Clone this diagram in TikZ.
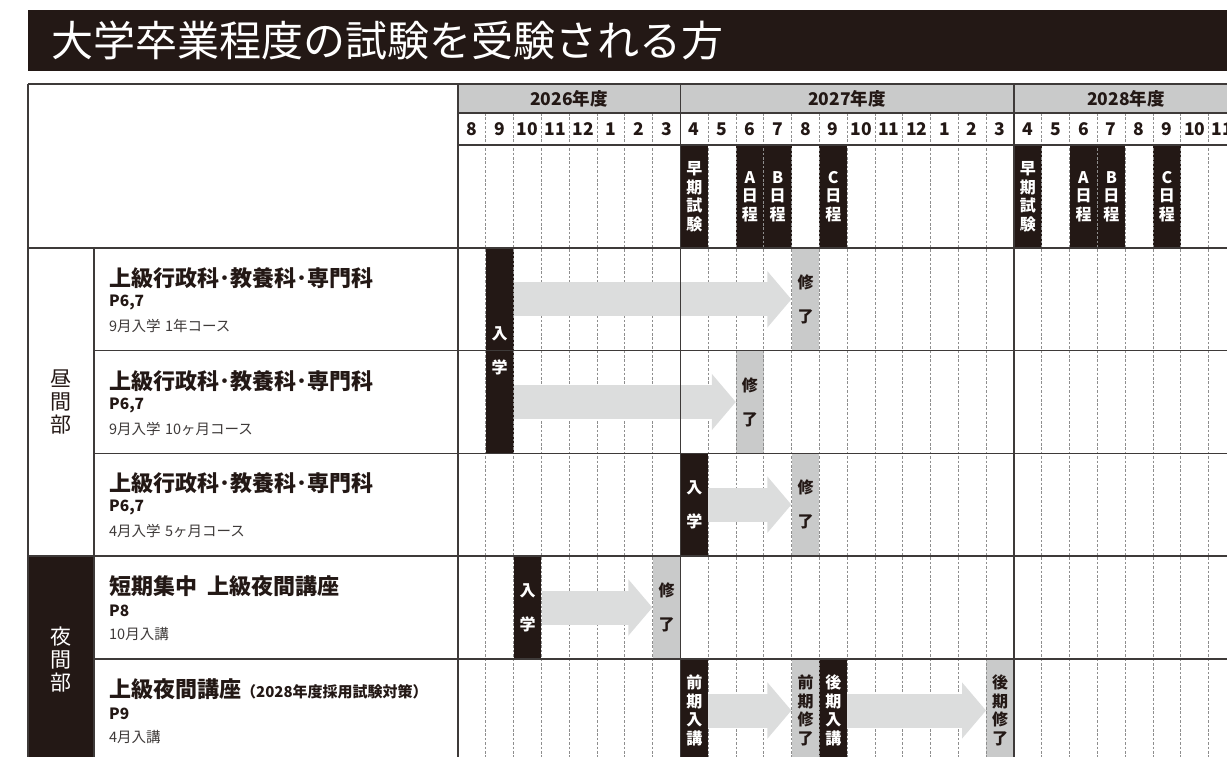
\documentclass[tikz,border=0pt]{standalone}
\usepackage{fontspec}
\setmainfont{Noto Sans CJK JP}
\usetikzlibrary{arrows.meta}
\definecolor{ink}{HTML}{231815}
\definecolor{boxgray}{HTML}{C9CACA}
\definecolor{flowgray}{HTML}{DCDDDD}
\definecolor{rulegray}{HTML}{3E3A39}
\definecolor{dashgray}{HTML}{8E8E8E}
\tikzset{
	rule/.style={draw=rulegray, line width=1.3pt},
	monthline/.style={draw=dashgray, line width=0.8pt, dash pattern=on 2.6pt off 1.8pt},
	cell/.style={inner sep=0pt, minimum width=27.8pt, align=center,
			font=\bfseries\fontsize{16}{18.5}\selectfont},
	pair/.style={font=\bfseries\fontsize{16}{34}\selectfont},
	entbox/.style={cell, fill=ink, text=white},
	endbox/.style={cell, fill=boxgray, text=ink},
	flow/.style={draw=flowgray, line width=34pt, -{Triangle[length=24pt, width=55pt]}},
	crs/.style={anchor=west, inner sep=0pt, text=ink, font=\bfseries\fontsize{22}{26}\selectfont},
	pg/.style={anchor=west, inner sep=0pt, text=ink, font=\bfseries\fontsize{15.5}{18}\selectfont},
	note/.style={anchor=west, inner sep=0pt, text=rulegray, font=\fontsize{14.5}{17}\selectfont},
	grp/.style={inner sep=0pt, align=center, font=\fontsize{21}{23}\selectfont},
}
\begin{document}
\begin{tikzpicture}[x=1pt, y=-1pt,
		every node/.style={text=ink},]
	\useasboundingbox (0,0) rectangle (1227,756);
	\fill[ink] (28,10) rectangle (1240,71);
	\node[anchor=west, inner sep=0pt, text=white, font=\fontsize{42}{42}\selectfont] (ttl) at (51,41) {大学卒業程度の試験を受験される方};
	\fill[boxgray] (458,84) rectangle (1240,113);
	\fill[ink] (28,556) rectangle (94,770);
	\node[grp] (day) at (61,402) {昼\\間\\部};
	\node[grp, text=white] (night) at (61,660) {夜\\間\\部};
	\node[font=\bfseries\fontsize{17.5}{20}\selectfont] (y26) at (569,98.5) {2026年度};
	\node[font=\bfseries\fontsize{17.5}{20}\selectfont] (y27) at (847,98.5) {2027年度};
	\node[font=\bfseries\fontsize{17.5}{20}\selectfont] (y28) at (1126,98.5) {2028年度};
	\foreach \m [count=\i from 0] in {8,9,10,11,12,1,2,3,4,5,6,7,8,9,10,11,12,1,2,3,4,5,6,7,8,9,10,11} {
			\node[inner sep=0pt, font=\bfseries\fontsize{17.5}{20}\selectfont] (m\i) at ({471.9+27.8*\i},129.5) {\m};
		}
	\foreach \i/\t [count=\n] in {8/{早\\期\\試\\験},10/{A\\日\\程},11/{B\\日\\程},13/{C\\日\\程},
			20/{早\\期\\試\\験},22/{A\\日\\程},23/{B\\日\\程},25/{C\\日\\程}} {
			\node[entbox, minimum height=103pt] (ex\n) at ({471.9+27.8*\i},196.5) {\t};
		}
	\foreach \t/\s [count=\r] in {248/{9月入学\hspace{0.3em}1年コース},350.7/{9月入学\hspace{0.3em}10ヶ月コース},453.3/{4月入学\hspace{0.3em}5ヶ月コース}} {
			\node[crs] (crs\r) at (109,\t+30) {上級行政科･教養科･専門科};
			\node[pg] (pg\r) at (109,\t+54.5) {P6,7};
			\node[note] (note\r) at (109,\t+78) {\s};
		}
	\node[crs] (crs4) at (109,586) {短期集中\hspace{0.45em}上級夜間講座};
	\node[pg] (pg4) at (109,610.5) {P8};
	\node[note] (note4) at (109,634) {10月入講};
	\node[crs] (crs5) at (109,689) {上級夜間講座{\fontsize{15}{18}\selectfont （2028年度採用試験対策）}};
	\node[pg] (pg5) at (109,713.5) {P9};
	\node[note] (note5) at (109,737) {4月入講};
	\node[entbox, pair, minimum height=205.3pt] (ent1) at (499.7,350.7) {入\\学};
	\node[endbox, pair, minimum height=102.7pt] (fin1) at (805.5,299.35) {修\\了};
	\node[endbox, pair, minimum height=102.6pt] (fin2) at (749.9,402) {修\\了};
	\node[entbox, pair, minimum height=102.7pt] (ent3) at (694.3,504.65) {入\\学};
	\node[endbox, pair, minimum height=102.7pt] (fin3) at (805.5,504.65) {修\\了};
	\node[entbox, pair, minimum height=103pt] (ent4) at (527.5,607.5) {入\\学};
	\node[endbox, pair, minimum height=103pt] (fin4) at (666.5,607.5) {修\\了};
	\node[entbox, minimum height=103pt] (ent5a) at (694.3,710.5) {前\\期\\入\\講};
	\node[endbox, minimum height=103pt] (fin5a) at (805.5,710.5) {前\\期\\修\\了};
	\node[entbox, minimum height=103pt] (ent5b) at (833.3,710.5) {後\\期\\入\\講};
	\node[endbox, minimum height=103pt] (fin5b) at (1000.1,710.5) {後\\期\\修\\了};
	\foreach \i in {1,...,7,9,10,...,19,21,22,...,27} {
			\draw[monthline] ({458+27.8*\i},113) -- ({458+27.8*\i},770);
		}
	\draw[flow] (ent1.east |- fin1.west) -- (fin1.west);
	\draw[flow] (ent1.east |- fin2.west) -- (fin2.west);
	\draw[flow] (ent3.east) -- (fin3.west);
	\draw[flow] (ent4.east) -- (fin4.west);
	\draw[flow] (ent5a.east) -- (fin5a.west);
	\draw[flow] (ent5b.east) -- (fin5b.west);
	\foreach \x/\y in {28/84,94/248,458/84,680.4/84,1014/84} {
			\draw[rule] (\x,\y) -- (\x,770);
		}
	\foreach \x/\y in {28/84,458/113,458/145,28/248,94/350.7,94/453.3,28/556,94/659} {
			\draw[rule] (\x,\y) -- (1240,\y);
		}
\end{tikzpicture}
\end{document}
